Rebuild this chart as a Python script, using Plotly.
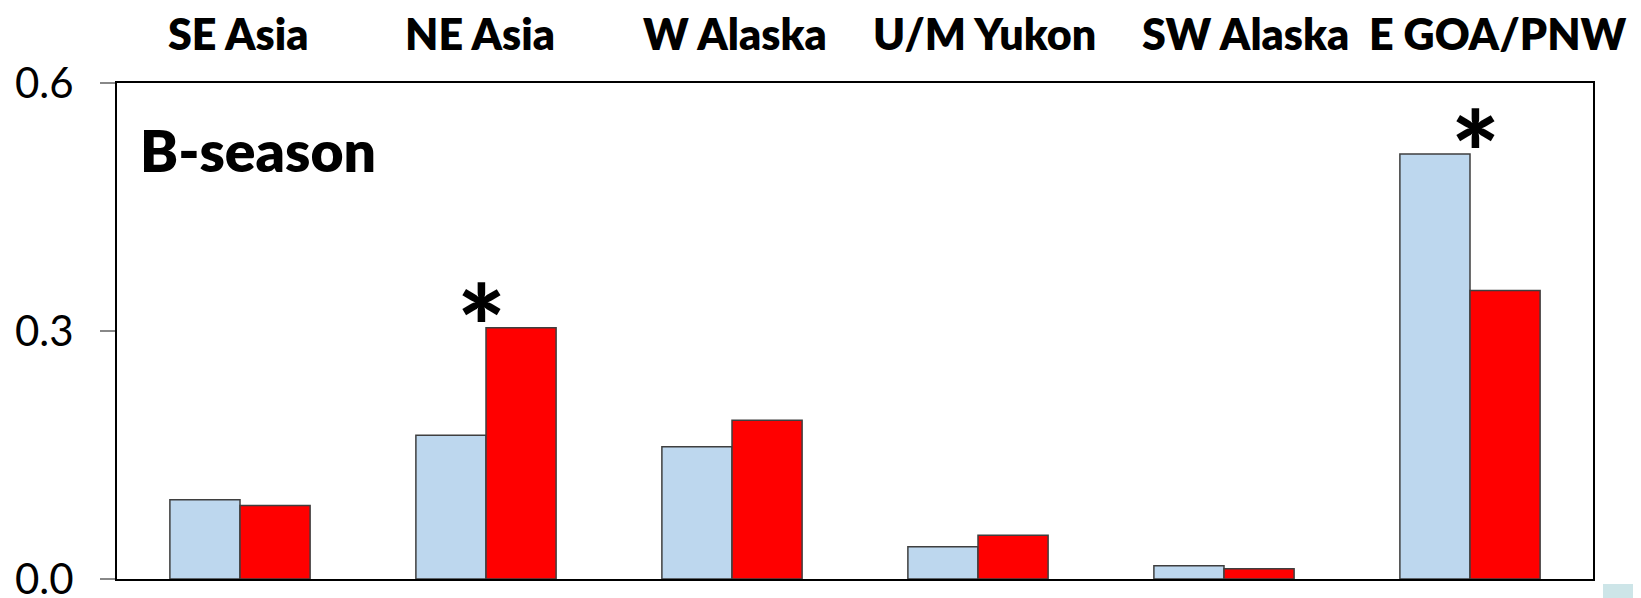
import plotly.graph_objects as go

regions = ["SE Asia", "NE Asia", "W Alaska", "U/M Yukon", "SW Alaska", "E GOA/PNW"]
series_a = [0.096, 0.174, 0.160, 0.039, 0.016, 0.514]   # light blue
series_b = [0.089, 0.304, 0.192, 0.053, 0.0125, 0.349]  # red
significant = [False, True, False, False, False, True]
panel_label = "B-season"
y_ticks = [0.0, 0.3, 0.6]
y_tick_text = ["0.0", "0.3", "0.6"]

# page body has an 8px default margin; compensate in figure margins
W, H = 1641, 598
ML, MR, MT, MB = 109, 56, 75, 27
font_family = "Lato, 'Open Sans', sans-serif"

fig = go.Figure()
fig.add_trace(go.Bar(x=regions, y=series_a, marker=dict(color="#BDD7EE", line=dict(color="#3F3F3F", width=1.5)),
                     showlegend=False, hoverinfo="skip"))
fig.add_trace(go.Bar(x=regions, y=series_b, marker=dict(color="#FF0000", line=dict(color="#3F3F3F", width=1.5)),
                     showlegend=False, hoverinfo="skip"))

label_shift = [-2, -6, 3, 6, 21, 28]
for r, dx in zip(regions, label_shift):
    fig.add_annotation(x=r, xref="x", y=1.1, yref="paper", text=r, showarrow=False,
                       xshift=dx, xanchor="center", yanchor="middle",
                       font=dict(family=font_family, size=43, color="black", weight=800))

star_shift = {1: -5, 5: 5}
for i, (r, sig) in enumerate(zip(regions, significant)):
    if sig:
        top = max(series_a[i], series_b[i])
        fig.add_annotation(x=r, xref="x", y=top, yref="y", text="*", showarrow=False,
                           xshift=star_shift.get(i, 0), yshift=4, xanchor="center", yanchor="middle",
                           font=dict(family=font_family, size=115, color="black", weight=900))

fig.add_annotation(x=0.014, xref="paper", y=0.864, yref="paper", text=panel_label,
                   showarrow=False, xanchor="left", yanchor="middle",
                   font=dict(family=font_family, size=57, color="black", weight=800))

# light slide decoration in the bottom-right corner
pw = W - ML - MR
ph = H - MT - MB
def px_to_paper_x(px):
    return (px - ML) / pw
def px_to_paper_y(py):
    return (H - MB - py) / ph
fig.add_shape(type="rect", xref="paper", yref="paper",
              x0=px_to_paper_x(1595), x1=px_to_paper_x(1641), y0=px_to_paper_y(598), y1=px_to_paper_y(576),
              fillcolor="#CDE5E8", line=dict(width=0), layer="below")

fig.update_layout(
    width=W, height=H,
    margin=dict(l=ML, r=MR, t=MT, b=MB, pad=0, autoexpand=False),
    paper_bgcolor="white", plot_bgcolor="white",
    barmode="group", bargap=0.43, bargroupgap=0,
    font=dict(family=font_family),
    xaxis=dict(range=[-0.5, len(regions) - 0.5], showticklabels=False, ticks="", showgrid=False, zeroline=False,
               showline=True, linecolor="black", linewidth=2, mirror=True),
    yaxis=dict(range=[0, 0.6], tickvals=y_ticks, ticktext=y_tick_text, ticks="outside", ticklen=15,
               tickcolor="#888888", tickwidth=1.5, showgrid=False, zeroline=False,
               showline=True, linecolor="black", linewidth=2, mirror=True,
               tickfont=dict(family=font_family, size=42, color="black"), ticklabelstandoff=18),
)

fig.write_html("out.html")
